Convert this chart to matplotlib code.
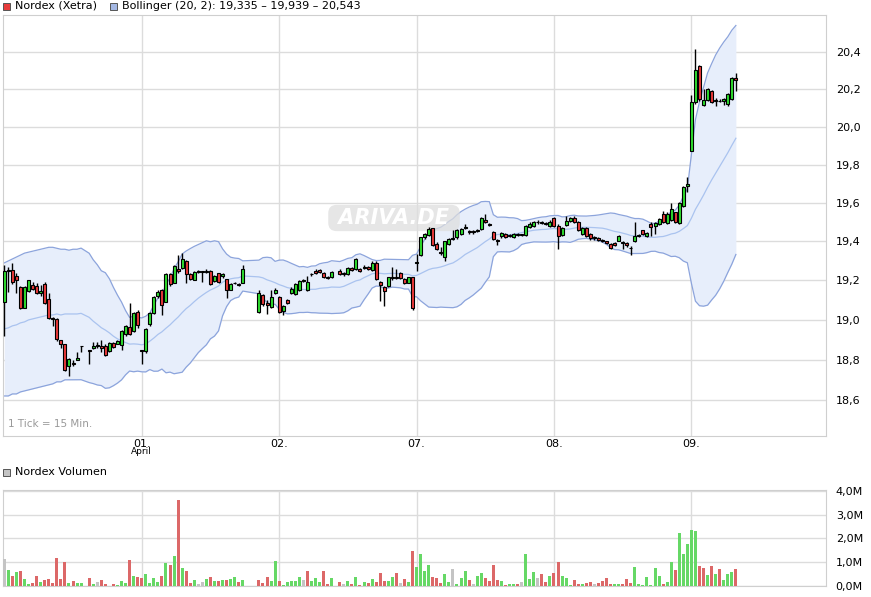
import numpy as np
import pandas as pd
import matplotlib
matplotlib.use('Agg')
import matplotlib.pyplot as plt
from matplotlib.patches import Rectangle
from matplotlib.ticker import FixedLocator, NullLocator, FuncFormatter

nan = np.nan

### 15 min candles, one row per trading day (31.03., 01.04., 02.04., 07.04., 08.04., 09.04.)
opens = [
    19.09, 19.25, 19.255, 19.222, 19.166, 19.062, 19.149, 19.175, 19.171, 19.135, 19.18, 19.104, 19.012, 19.004, 18.897, 18.877, 18.767, 18.785, 18.8, 18.868, nan, 18.85, 18.86, 18.87, 18.868, 18.871, 18.846, 18.885, 18.881, 18.876, 18.927, 18.965, 18.944, 19.039,
    18.847, 18.842, 18.978, 19.035, 19.12, 19.15, 19.092, 19.235, 19.187, 19.26, 19.265, 19.3, 19.234, 19.205, 19.245, 19.245, 19.245, 19.251, 19.196, 19.236, 19.222, 19.208, 19.154, 19.185, 19.18, 19.188, nan, nan, nan, 19.039, 19.124, 19.085, 19.067, 19.134,
    19.115, 19.046, 19.1, 19.135, 19.13, 19.15, 19.205, 19.15, 19.232, 19.25, 19.255, 19.24, 19.22, 19.22, nan, 19.25, 19.235, 19.235, 19.262, 19.26, 19.26, 19.265, 19.27, 19.256, 19.29, 19.19, 19.165, 19.17, 19.215, 19.218, 19.24, 19.21, 19.188, 19.217,
    19.29, 19.33, 19.422, 19.436, 19.468, 19.388, 19.345, 19.318, 19.385, 19.415, 19.422, 19.44, 19.472, 19.452, 19.45, 19.455, 19.463, 19.51, 19.488, 19.45, 19.41, 19.428, 19.44, 19.43, 19.425, 19.44, 19.435, 19.436, 19.475, 19.48, 19.5, 19.5, 19.495, 19.48,
    19.52, 19.48, 19.436, 19.485, 19.505, 19.52, 19.5, 19.44, 19.47, 19.44, 19.425, 19.42, 19.41, 19.4, 19.385, 19.393, 19.405, 19.395, 19.39, 19.368, 19.4, 19.43, 19.458, 19.43, 19.49, 19.48, 19.49, 19.54, 19.494, 19.513, 19.55, 19.495, 19.585, 19.69,
    19.874, 20.13, 20.326, 20.118, 20.145, 20.19, 20.14, 20.14, 20.135, 20.12, 20.15, 20.26,
]
highs = [
    19.28, 19.27, 19.29, 19.24, 19.17, 19.17, 19.205, 19.19, 19.185, 19.175, 19.19, 19.135, 19.015, 19.01, 18.9, 18.88, 18.81, 18.8, 18.84, 18.87, nan, 18.85, 18.89, 18.89, 18.9, 18.88, 18.89, 18.89, 18.9, 18.95, 18.975, 19.087, 19.04, 19.05,
    18.85, 18.96, 19.04, 19.12, 19.15, 19.155, 19.24, 19.24, 19.28, 19.33, 19.343, 19.305, 19.24, 19.25, 19.255, 19.25, 19.26, 19.255, 19.23, 19.24, 19.24, 19.21, 19.185, 19.19, 19.185, 19.28, nan, nan, nan, 19.15, 19.13, 19.1, 19.15, 19.16,
    19.12, 19.075, 19.105, 19.165, 19.185, 19.2, 19.21, 19.225, 19.24, 19.26, 19.26, 19.245, 19.225, 19.25, nan, 19.26, 19.245, 19.27, 19.27, 19.315, 19.265, 19.28, 19.275, 19.3, 19.3, 19.195, 19.17, 19.22, 19.27, 19.26, 19.245, 19.215, 19.22, 19.22,
    19.335, 19.425, 19.445, 19.475, 19.47, 19.395, 19.37, 19.405, 19.42, 19.46, 19.465, 19.47, 19.49, 19.46, 19.46, 19.465, 19.525, 19.54, 19.495, 19.455, 19.415, 19.45, 19.445, 19.44, 19.445, 19.445, 19.44, 19.485, 19.5, 19.505, 19.51, 19.505, 19.5, 19.51,
    19.525, 19.49, 19.475, 19.53, 19.525, 19.53, 19.505, 19.475, 19.475, 19.445, 19.43, 19.425, 19.415, 19.405, 19.39, 19.395, 19.435, 19.4, 19.395, 19.375, 19.5, 19.44, 19.46, 19.45, 19.5, 19.5, 19.52, 19.56, 19.55, 19.6, 19.555, 19.605, 19.69, 19.735,
    20.17, 20.416, 20.33, 20.2, 20.205, 20.195, 20.155, 20.15, 20.155, 20.18, 20.265, 20.29,
]
lows = [
    18.92, 19.14, 19.18, 19.135, 19.055, 19.06, 19.14, 19.15, 19.13, 19.12, 19.08, 19.005, 18.97, 18.895, 18.86, 18.745, 18.72, 18.77, 18.8, 18.84, nan, 18.78, 18.855, 18.86, 18.84, 18.82, 18.84, 18.86, 18.88, 18.85, 18.92, 18.925, 18.94, 18.96,
    18.78, 18.835, 18.97, 19.03, 19.11, 19.025, 19.09, 19.17, 19.185, 19.24, 19.26, 19.188, 19.205, 19.2, 19.24, 19.19, 19.24, 19.175, 19.19, 19.185, 19.215, 19.11, 19.15, 19.18, 19.17, 19.185, nan, nan, nan, 19.035, 19.07, 19.03, 19.06, 19.13,
    19.035, 19.025, 19.08, 19.13, 19.125, 19.145, 19.19, 19.145, 19.225, 19.235, 19.24, 19.215, 19.21, 19.215, nan, 19.23, 19.225, 19.23, 19.25, 19.255, 19.245, 19.26, 19.255, 19.25, 19.2, 19.095, 19.07, 19.165, 19.2, 19.21, 19.21, 19.18, 19.185, 19.05,
    19.248, 19.325, 19.415, 19.43, 19.375, 19.355, 19.33, 19.3, 19.38, 19.41, 19.415, 19.435, 19.465, 19.44, 19.44, 19.45, 19.46, 19.495, 19.48, 19.41, 19.38, 19.42, 19.42, 19.425, 19.42, 19.43, 19.43, 19.43, 19.47, 19.475, 19.49, 19.49, 19.485, 19.475,
    19.475, 19.36, 19.43, 19.48, 19.5, 19.495, 19.455, 19.435, 19.425, 19.41, 19.41, 19.405, 19.395, 19.385, 19.36, 19.375, 19.4, 19.36, 19.37, 19.33, 19.395, 19.425, 19.435, 19.425, 19.43, 19.44, 19.485, 19.495, 19.49, 19.505, 19.495, 19.49, 19.58, 19.657,
    19.87, 20.12, 20.14, 20.11, 20.14, 20.125, 20.11, 20.13, 20.115, 20.11, 20.145, 20.19,
]
closes = [
    19.25, 19.255, 19.19, 19.2, 19.062, 19.166, 19.2, 19.159, 19.135, 19.149, 19.087, 19.012, 19.004, 18.902, 18.877, 18.75, 18.805, 18.78, 18.81, 18.87, nan, 18.845, 18.87, 18.87, 18.86, 18.825, 18.885, 18.864, 18.893, 18.944, 18.968, 18.931, 19.035, 18.975,
    18.842, 18.956, 19.034, 19.115, 19.141, 19.076, 19.235, 19.18, 19.276, 19.25, 19.31, 19.232, 19.21, 19.245, 19.245, 19.245, 19.251, 19.18, 19.222, 19.191, 19.234, 19.154, 19.18, 19.188, 19.178, 19.26, nan, nan, nan, 19.136, 19.081, 19.075, 19.115, 19.15,
    19.039, 19.071, 19.085, 19.158, 19.18, 19.196, 19.196, 19.19, 19.235, 19.24, 19.245, 19.22, 19.215, 19.245, nan, 19.235, 19.235, 19.265, 19.255, 19.308, 19.248, 19.27, 19.26, 19.29, 19.208, 19.175, 19.148, 19.217, 19.22, 19.215, 19.215, 19.185, 19.217, 19.062,
    19.294, 19.422, 19.44, 19.466, 19.38, 19.36, 19.34, 19.4, 19.415, 19.415, 19.458, 19.462, 19.475, 19.45, 19.45, 19.458, 19.52, 19.5, 19.486, 19.415, 19.405, 19.442, 19.425, 19.435, 19.44, 19.435, 19.435, 19.48, 19.49, 19.5, 19.5, 19.495, 19.49, 19.503,
    19.48, 19.43, 19.47, 19.505, 19.52, 19.5, 19.46, 19.47, 19.43, 19.42, 19.42, 19.41, 19.4, 19.39, 19.364, 19.38, 19.43, 19.39, 19.38, 19.367, 19.43, 19.432, 19.44, 19.445, 19.475, 19.495, 19.515, 19.5, 19.543, 19.57, 19.5, 19.6, 19.685, 19.7,
    20.13, 20.305, 20.15, 20.145, 20.2, 20.13, 20.145, 20.135, 20.15, 20.175, 20.26, 20.25,
]
# volume in millions
volume = [
    1.14, 0.68, 0.42, 0.59, 0.63, 0.30, 0.08, 0.13, 0.42, 0.17, 0.25, 0.30, 0.13, 1.18, 0.30, 1.01, 0.13, 0.21, 0.13, 0.13, 0, 0.34, 0.08, 0.17, 0.25, 0.08, 0.02, 0.08, 0.04, 0.21, 0.13, 1.10, 0.42, 0.38,
    0.34, 0.51, 0.13, 0.34, 0.17, 0.42, 0.97, 0.89, 1.27, 3.63, 0.76, 0.63, 0.13, 0.25, 0.08, 0.17, 0.30, 0.38, 0.21, 0.21, 0.25, 0.25, 0.30, 0.38, 0.17, 0.25, 0, 0, 0, 0.25, 0.13, 0.38, 0.21, 1.06,
    0.21, 0.04, 0.17, 0.21, 0.21, 0.38, 0.25, 0.63, 0.21, 0.34, 0.17, 0.63, 0.08, 0.34, 0, 0.17, 0.08, 0.21, 0.08, 0.38, 0.04, 0.17, 0.13, 0.30, 0.17, 0.55, 0.21, 0.21, 0.38, 0.55, 0.13, 0.30, 0.17, 1.48,
    0.80, 1.35, 0.63, 0.89, 0.38, 0.34, 0.13, 0.51, 0.17, 0.72, 0.08, 0.34, 0.63, 0.25, 0.08, 0.42, 0.55, 0.34, 0.21, 0.89, 0.25, 0.21, 0.04, 0.08, 0.08, 0.08, 0.17, 1.35, 0.30, 0.59, 0.34, 0.51, 0.17, 0.42,
    0.55, 1.01, 0.42, 0.34, 0.04, 0.25, 0.08, 0.08, 0.13, 0.17, 0.08, 0.13, 0.21, 0.34, 0.08, 0.08, 0.08, 0.08, 0.30, 0.13, 0.80, 0.08, 0.04, 0.38, 0.04, 0.76, 0.42, 0.08, 0.17, 1.01, 0.68, 2.24, 1.35, 1.77,
    2.37, 2.32, 0.85, 0.76, 0.46, 0.85, 0.51, 0.72, 0.25, 0.51, 0.59, 0.72,
]

# bollinger values for the first 19 ticks (history before the window)
bb_upper_start = [19.29, 19.30, 19.31, 19.32, 19.33, 19.34, 19.345, 19.35, 19.355, 19.36, 19.365, 19.37, 19.37, 19.365, 19.36, 19.36, 19.355, 19.36, 19.36]
bb_mid_start = [18.955, 18.96, 18.97, 18.975, 18.985, 18.99, 19.0, 19.005, 19.01, 19.015, 19.02, 19.025, 19.025, 19.03, 19.025, 19.03, 19.03, 19.03, 19.03]
bb_lower_start = [18.62, 18.62, 18.63, 18.63, 18.64, 18.645, 18.65, 18.655, 18.66, 18.665, 18.67, 18.675, 18.68, 18.69, 18.69, 18.70, 18.70, 18.70, 18.70]

day_pos = [34, 68, 102, 136, 170]
day_labels = ['01.', '02.', '07.', '08.', '09.']
price_ticks = [18.6, 18.8, 19.0, 19.2, 19.4, 19.6, 19.8, 20.0, 20.2, 20.4]
vol_ticks = [0, 1, 2, 3, 4]

o = np.array(opens)
h = np.array(highs)
l = np.array(lows)
c = np.array(closes)
v = np.array(volume)
x = np.arange(len(c))
ok = ~np.isnan(c)

### bollinger (20, 2) on the closes
s = pd.Series(c[ok], index=x[ok])
mid = s.rolling(20).mean()
sd = s.rolling(20).std(ddof=0)
upper = mid + 2 * sd
lower = mid - 2 * sd
n0 = len(bb_mid_start)
mid.iloc[:n0] = bb_mid_start
upper.iloc[:n0] = bb_upper_start
lower.iloc[:n0] = bb_lower_start

GREEN = '#2fe02f'
RED = '#ec3a3a'
W, H = 871, 597


def fx(px):
    return px / W


def fy(py):
    return 1 - py / H


fig = plt.figure(figsize=(W / 100, H / 100), dpi=100)
ax = fig.add_axes([fx(3), fy(436), 823 / W, 421 / H])
axv = fig.add_axes([fx(3), fy(586), 823 / W, 96 / H])

### price panel
ax.fill_between(s.index, lower, upper, color='#e7eefb', lw=0, zorder=1)
ax.plot(s.index, upper, color='#8ca4dc', lw=0.9, zorder=2)
ax.plot(s.index, lower, color='#8ca4dc', lw=0.9, zorder=2)
ax.plot(s.index, mid, color='#aac3ef', lw=0.9, zorder=2)

# watermark
ax.text((394 - 3) / 823, (436 - 218) / 421, ' ARIVA.DE ', transform=ax.transAxes, ha='center', va='center',
        color='white', fontsize=15, fontweight='bold', fontstyle='italic', zorder=2,
        bbox=dict(boxstyle='round,pad=0.15,rounding_size=0.4', fc='#dedede', ec='none', alpha=0.75))

xs = x[ok]
body_lo = np.minimum(o[ok], c[ok])
body_hi = np.maximum(o[ok], c[ok])
body_h = np.maximum(body_hi - body_lo, 0.002)
body_col = np.where(c[ok] > o[ok], GREEN, np.where(c[ok] < o[ok], RED, 'black'))
ax.vlines(xs, l[ok], h[ok], color='black', lw=1, zorder=3)
ax.bar(xs, body_h, bottom=body_lo, width=0.74, color=body_col, edgecolor='black', lw=0.8, zorder=4)

ax.set_yscale('log')
ax.set_ylim(18.423, 20.603)
ax.set_xlim(-0.32, 203.3)
ax.yaxis.set_major_locator(FixedLocator(price_ticks))
ax.yaxis.set_minor_locator(NullLocator())
ax.yaxis.set_major_formatter(FuncFormatter(lambda y, p: ('%.1f' % y).replace('.', ',')))
ax.yaxis.tick_right()
ax.set_xticks(day_pos)
ax.set_xticklabels(day_labels)
ax.tick_params(axis='both', length=0, labelsize=8, colors='black')
ax.tick_params(axis='y', pad=7)
ax.tick_params(axis='x', pad=2)
ax.grid(True, color='#dcdcdc', lw=1)
ax.set_axisbelow(True)
for sp in ax.spines.values():
    sp.set_color('#cfcfcf')
ax.text(5 / 823, (436 - 424) / 421, '1 Tick = 15 Min.', transform=ax.transAxes, color='#999999',
        fontsize=7.5, va='center')
fig.text(fx(141), fy(452), 'April', ha='center', va='center', fontsize=6.5)

### volume panel
prev = np.concatenate([[nan], pd.Series(c).ffill().values[:-1]])
vcol = np.where(c > prev, '#66d866', np.where(c < prev, '#dc6868', '#c4c4c4'))
axv.bar(x[v > 0], v[v > 0], width=0.74, color=vcol[v > 0], lw=0, zorder=3)
axv.set_xlim(-0.32, 203.3)
axv.set_ylim(0, 4.03)
axv.set_yticks(vol_ticks)
axv.set_yticklabels(['%d,0M' % t for t in vol_ticks])
axv.yaxis.tick_right()
axv.set_xticks(day_pos)
axv.set_xticklabels([])
axv.tick_params(axis='both', length=0, labelsize=8, pad=7)
axv.grid(True, color='#dcdcdc', lw=1)
axv.set_axisbelow(True)
for sp in axv.spines.values():
    sp.set_color('#cfcfcf')

### legends
fig.patches.append(Rectangle((fx(3), fy(10)), 7 / W, 7 / H, transform=fig.transFigure,
                             fc='#e83c3c', ec='#555555', lw=0.7))
fig.text(fx(15), fy(6), 'Nordex (Xetra)', fontsize=8, va='center')
fig.patches.append(Rectangle((fx(110), fy(10)), 7 / W, 7 / H, transform=fig.transFigure,
                             fc='#a4b8e4', ec='#555555', lw=0.7))
fig.text(fx(122), fy(6), 'Bollinger (20, 2): 19,335 \u2013 19,939 \u2013 20,543', fontsize=8, va='center')
fig.patches.append(Rectangle((fx(3), fy(476)), 7 / W, 7 / H, transform=fig.transFigure,
                             fc='#c4c4c4', ec='#555555', lw=0.7))
fig.text(fx(15), fy(472), 'Nordex Volumen', fontsize=8, va='center')

plt.savefig('out.png', dpi=100)
